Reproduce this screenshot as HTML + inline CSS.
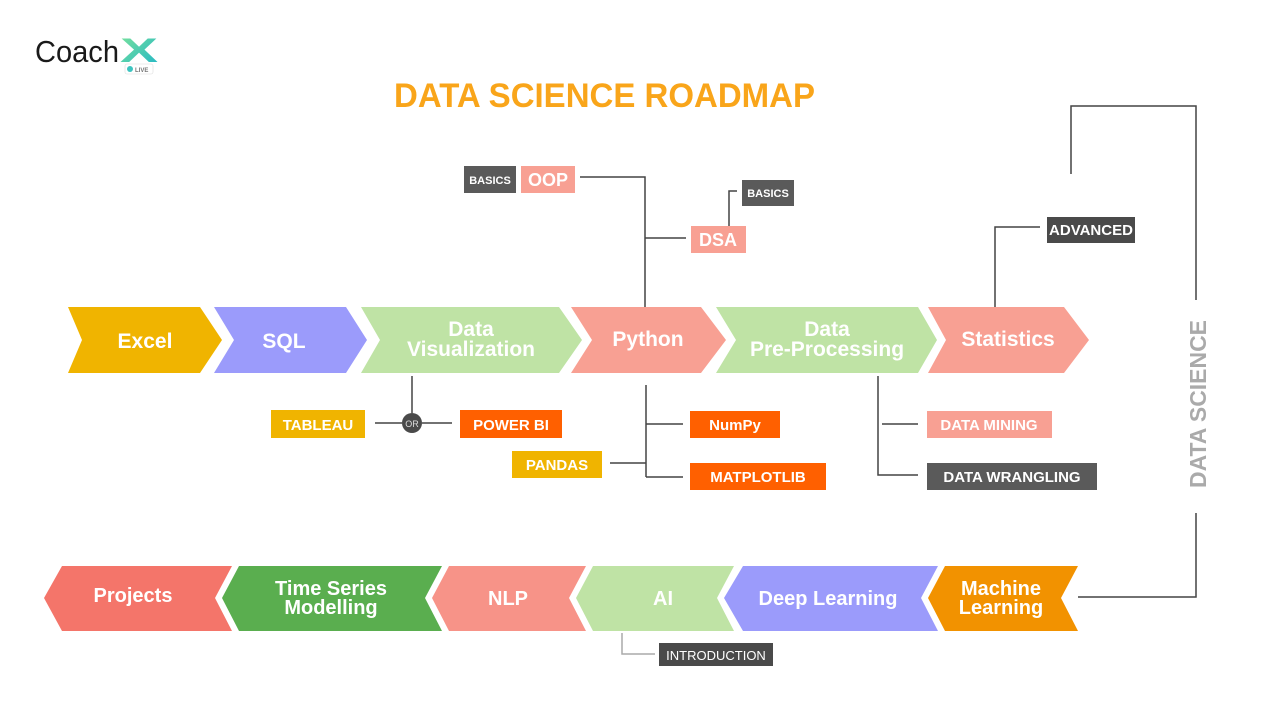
<!DOCTYPE html>
<html><head><meta charset="utf-8"><style>
html,body{margin:0;padding:0;background:#fff;}
svg{display:block;}
text{font-family:"Liberation Sans",sans-serif;font-weight:bold;}
</style></head><body>
<svg width="1280" height="718" viewBox="0 0 1280 718" xmlns="http://www.w3.org/2000/svg">
<defs><linearGradient id="xg" x1="0" y1="0" x2="1" y2="1"><stop offset="0" stop-color="#7be39a"/><stop offset="1" stop-color="#1fb5c8"/></linearGradient></defs>
<rect width="1280" height="718" fill="#fff"/>
<!-- logo -->
<text x="35" y="62" font-size="31" fill="#1a1a1a" textLength="84" lengthAdjust="spacingAndGlyphs" style="font-weight:normal">Coach</text>
<text x="120" y="62" font-size="34" fill="url(#xg)" textLength="38" lengthAdjust="spacingAndGlyphs">X</text>
<rect x="125" y="64" width="28" height="10" rx="2" fill="#fff" stroke="#ddd" stroke-width="0.6"/>
<circle cx="130" cy="69" r="3" fill="#3cc4c0"/>
<text x="135" y="72" font-size="6" fill="#777">LIVE</text>
<!-- title -->
<text x="394" y="107" font-size="34" fill="#f9a51a" textLength="421" lengthAdjust="spacingAndGlyphs">DATA SCIENCE ROADMAP</text>

<!-- connectors -->
<g stroke="#444" stroke-width="1.5" fill="none">
<polyline points="580,177 645,177 645,308"/>
<line x1="645" y1="238" x2="686" y2="238"/>
<polyline points="729,226 729,191 737,191"/>
<polyline points="995,308 995,227 1040,227"/>
<polyline points="1071,174 1071,106 1196,106 1196,300"/>
<polyline points="1196,513 1196,597 1078,597"/>
<line x1="412" y1="376" x2="412" y2="413"/>
<line x1="375" y1="423" x2="402" y2="423"/>
<line x1="422" y1="423" x2="452" y2="423"/>
<line x1="646" y1="385" x2="646" y2="477"/>
<line x1="646" y1="424" x2="683" y2="424"/>
<line x1="646" y1="477" x2="683" y2="477"/>
<line x1="610" y1="463" x2="646" y2="463"/>
<polyline points="878,376 878,475 918,475"/>
<line x1="882" y1="424" x2="918" y2="424"/>
</g>
<polyline points="622,633 622,654 655,654" stroke="#aaa" stroke-width="1.5" fill="none"/>

<!-- top chevrons -->
<polygon points="68,307 200,307 222,340 200,373 68,373 82,340" fill="#f0b400"/>
<polygon points="214,307 346,307 367,340 346,373 214,373 234,340" fill="#9b9bfb"/>
<polygon points="361,307 559,307 582,340 559,373 361,373 380,340" fill="#bfe3a5"/>
<polygon points="571,307 701,307 726,340 701,373 571,373 592,340" fill="#f8a093"/>
<polygon points="716,307 918,307 937,340 918,373 716,373 736,340" fill="#bfe3a5"/>
<polygon points="928,307 1064,307 1089,340 1064,373 928,373 946,340" fill="#f8a093"/>
<g fill="#fff" font-size="21" text-anchor="middle">
<text x="145" y="348">Excel</text>
<text x="284" y="348">SQL</text>
<text x="471" y="336">Data</text>
<text x="471" y="356">Visualization</text>
<text x="648" y="346">Python</text>
<text x="827" y="336">Data</text>
<text x="827" y="356">Pre-Processing</text>
<text x="1008" y="346">Statistics</text>
</g>

<!-- bottom chevrons -->
<polygon points="1078,566 945,566 928,598 945,631 1078,631 1061,598" fill="#f29200"/>
<polygon points="938,566 743,566 724,598 743,631 938,631 921,598" fill="#9b9bfb"/>
<polygon points="734,566 593,566 576,598 593,631 734,631 717,598" fill="#bfe3a5"/>
<polygon points="586,566 449,566 432,598 449,631 586,631 569,598" fill="#f79388"/>
<polygon points="442,566 239,566 222,598 239,631 442,631 425,598" fill="#5aae4f"/>
<polygon points="232,566 62,566 44,598 62,631 232,631 215,598" fill="#f4756a"/>
<g fill="#fff" font-size="20" text-anchor="middle">
<text x="1001" y="595">Machine</text>
<text x="1001" y="614">Learning</text>
<text x="828" y="605">Deep Learning</text>
<text x="663" y="605">AI</text>
<text x="508" y="605">NLP</text>
<text x="331" y="595">Time Series</text>
<text x="331" y="614">Modelling</text>
<text x="133" y="602">Projects</text>
</g>

<!-- tags -->
<g font-size="15" text-anchor="middle" fill="#fff">
<rect x="271" y="410" width="94" height="28" fill="#f0b400"/><text x="318" y="430">TABLEAU</text>
<rect x="460" y="410" width="102" height="28" fill="#ff6000"/><text x="511" y="430">POWER BI</text>
<rect x="512" y="451" width="90" height="27" fill="#f0b400"/><text x="557" y="470">PANDAS</text>
<rect x="690" y="411" width="90" height="27" fill="#ff6000"/><text x="735" y="430">NumPy</text>
<rect x="690" y="463" width="136" height="27" fill="#ff6000"/><text x="758" y="482">MATPLOTLIB</text>
<rect x="927" y="411" width="125" height="27" fill="#f8a093"/><text x="989" y="430">DATA MINING</text>
<rect x="927" y="463" width="170" height="27" fill="#5a5a5a"/><text x="1012" y="482">DATA WRANGLING</text>
<rect x="1047" y="217" width="88" height="26" fill="#4a4a4a"/><text x="1091" y="235">ADVANCED</text>
<rect x="521" y="166" width="54" height="27" fill="#f8a093"/><text x="548" y="186" font-size="18">OOP</text>
<rect x="691" y="226" width="55" height="27" fill="#f8a093"/><text x="718" y="246" font-size="18">DSA</text>
<rect x="464" y="166" width="52" height="27" fill="#5a5a5a"/><text x="490" y="184" font-size="11">BASICS</text>
<rect x="742" y="180" width="52" height="26" fill="#5a5a5a"/><text x="768" y="197" font-size="11">BASICS</text>
<rect x="659" y="643" width="114" height="23" fill="#4a4a4a"/><text x="716" y="660" font-size="13" style="font-weight:normal">INTRODUCTION</text>
</g>
<circle cx="412" cy="423" r="10" fill="#4a4a4a"/>
<text x="412" y="427" font-size="9" fill="#ddd" text-anchor="middle" style="font-weight:normal">OR</text>

<text transform="translate(1206,404) rotate(-90)" font-size="23" fill="#aaa" text-anchor="middle" textLength="168" lengthAdjust="spacingAndGlyphs">DATA SCIENCE</text>
</svg>
</body></html>
